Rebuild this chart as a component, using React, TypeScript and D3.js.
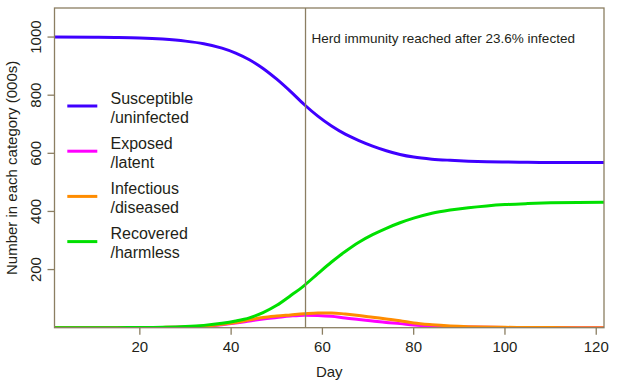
import React from "react";
import * as d3 from "d3";

const days = [1, 10, 15, 20, 25, 30, 34, 38, 41, 44, 47, 50, 53, 56, 59, 62, 65, 68, 71, 74, 77, 80, 84, 88, 92, 96, 100, 105, 110, 116, 122];
const susceptible = [1000, 999.6, 998.8, 997, 993, 986, 977, 962, 945, 922, 892, 855, 813, 768, 728, 694, 666, 644, 625, 609, 596, 587, 580, 576, 573, 571, 570, 569, 568.5, 568, 568];
const exposed = [0, 0.1, 0.2, 0.4, 1, 2.5, 5, 10.5, 16, 23, 30, 35, 40, 43, 42, 39, 33, 28, 23, 18, 14, 9, 5.5, 3.5, 2.2, 1.4, 0.8, 0.5, 0.3, 0.1, 0.1];
const infectious = [0, 0.1, 0.2, 0.4, 1, 2.5, 5.5, 12, 18, 27, 35, 40, 44, 48, 51, 51, 47, 42, 36, 30, 24, 16, 10, 6, 3.5, 2, 1.2, 0.7, 0.4, 0.2, 0.1];
const recovered = [0, 0.1, 0.2, 0.5, 1.5, 4, 8, 15, 23, 34, 52, 77, 110, 145, 186, 226, 262, 294, 320, 342, 361, 377, 394, 405, 413, 419, 423.5, 427, 429.5, 431, 432];

const seriesNames = ["Susceptible", "Exposed", "Infectious", "Recovered"];
const seriesSub = ["/uninfected", "/latent", "/diseased", "/harmless"];
const seriesColors = ["#3f00ff", "#ff00ff", "#ff8c00", "#00e000"];
const seriesValues = [susceptible, exposed, infectious, recovered];

const xTicks = [20, 40, 60, 80, 100, 120];
const yTicks = [200, 400, 600, 800, 1000];
const herdDay = 56.3;
const annotation = "Herd immunity reached after 23.6% infected";
const xLabel = "Day";
const yLabel = "Number in each category (000s)";

const W = 625, H = 385;
const left = 54.5, right = 604, top = 8, bottom = 327.7;
const boxColor = "#8b7e62";
const textColor = "#231f18";
const font = "'Liberation Sans', Arial, sans-serif";

export default function App() {
  const x = d3.scaleLinear().domain([1.3, 121.7]).range([left, right]);
  const y = d3.scaleLinear().domain([0, 1100]).range([bottom, top]);
  const line = d3
    .line<[number, number]>()
    .x((d) => x(d[0]))
    .y((d) => y(d[1]))
    .curve(d3.curveMonotoneX);

  return (
    <div style={{ position: "fixed", left: 0, top: 0 }}>
      <svg width={W} height={H} style={{ display: "block", background: "#fff" }} fontFamily={font}>
        <defs>
          <clipPath id="plotclip">
            <rect x={left} y={top} width={right - left} height={bottom - top} />
          </clipPath>
        </defs>
        <g clipPath="url(#plotclip)">
          {seriesValues.map((vals, i) => (
            <path
              key={i}
              d={line(days.map((d, j) => [d, vals[j]] as [number, number])) || ""}
              fill="none"
              stroke={seriesColors[i]}
              strokeWidth={3}
              strokeLinejoin="round"
            />
          ))}
        </g>
        <line x1={x(herdDay)} x2={x(herdDay)} y1={top} y2={bottom} stroke={boxColor} strokeWidth={1.3} />
        <rect x={left} y={top} width={right - left} height={bottom - top} fill="none" stroke={boxColor} strokeWidth={1.3} />
        {xTicks.map((t) => (
          <g key={t}>
            <line x1={x(t)} x2={x(t)} y1={bottom} y2={bottom + 7} stroke={boxColor} strokeWidth={1.3} />
            <text x={x(t)} y={bottom + 24} textAnchor="middle" fontSize={15} fill={textColor}>
              {t}
            </text>
          </g>
        ))}
        {yTicks.map((t) => (
          <g key={t}>
            <line x1={left - 7} x2={left} y1={y(t)} y2={y(t)} stroke={boxColor} strokeWidth={1.3} />
            <text
              transform={`translate(${left - 14},${y(t)}) rotate(-90)`}
              textAnchor="middle"
              fontSize={15}
              fill={textColor}
            >
              {t}
            </text>
          </g>
        ))}
        <text x={(left + right) / 2} y={377} textAnchor="middle" fontSize={15} fill={textColor}>
          {xLabel}
        </text>
        <text
          transform={`translate(17,${(top + bottom) / 2}) rotate(-90)`}
          textAnchor="middle"
          fontSize={15}
          fill={textColor}
        >
          {yLabel}
        </text>
        <text x={x(herdDay) + 6} y={43} fontSize={13.5} fill={textColor}>
          {annotation}
        </text>
        {seriesNames.map((n, i) => {
          const ly = 106 + i * 45.2;
          return (
            <g key={n}>
              <line x1={67.3} x2={97.3} y1={ly} y2={ly} stroke={seriesColors[i]} strokeWidth={3} />
              <text x={110.5} y={ly - 2.5} fontSize={16} fill={textColor}>
                {n}
              </text>
              <text x={110.5} y={ly + 16.5} fontSize={16} fill={textColor}>
                {seriesSub[i]}
              </text>
            </g>
          );
        })}
      </svg>
    </div>
  );
}
